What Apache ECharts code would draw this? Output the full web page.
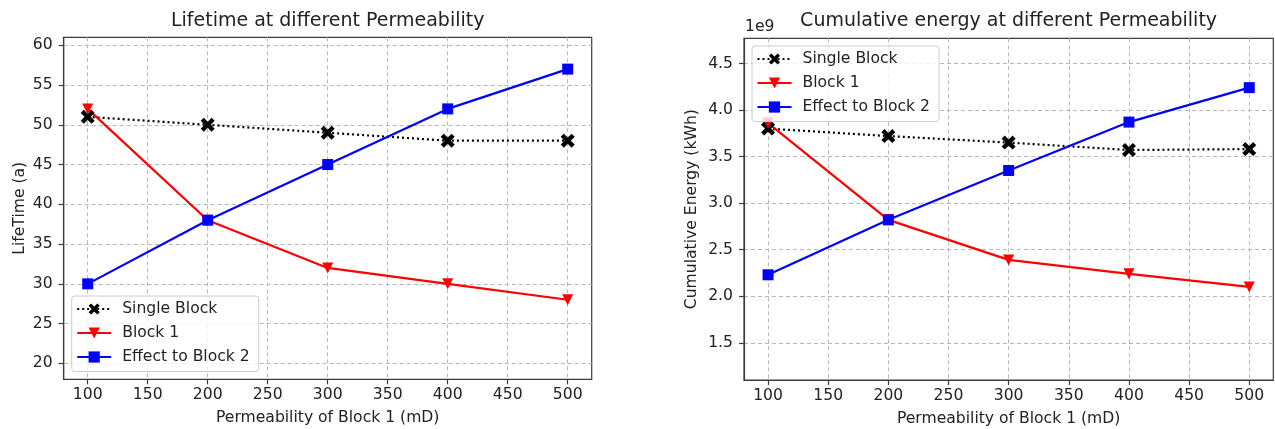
<!DOCTYPE html>
<html>
<head>
<meta charset="utf-8">
<script src="https://cdn.jsdelivr.net/npm/echarts@6/dist/echarts.min.js"></script>
<style>
  html, body { margin: 0; padding: 0; background: #ffffff; }
  #chart { width: 1275px; height: 429px; }
</style>
</head>
<body>
<div id="chart"></div>
<script>
// Permeability of Block 1 (mD)
const permeability = [100, 200, 300, 400, 500];

// Lifetime (years)
const lifeSingle = [51, 50, 49, 48, 48];
const lifeBlock1 = [52, 38, 32, 30, 28];
const lifeBlock2 = [30, 38, 45, 52, 57];

// Cumulative energy (kWh)
const energySingle = [3.80e9, 3.72e9, 3.65e9, 3.57e9, 3.58e9];
const energyBlock1 = [3.86e9, 2.82e9, 2.39e9, 2.24e9, 2.10e9];
const energyBlock2 = [2.23e9, 2.82e9, 3.35e9, 3.87e9, 4.24e9];

// Tick values
const xTicks = [100, 150, 200, 250, 300, 350, 400, 450, 500];
const lifeTicks = [20, 25, 30, 35, 40, 45, 50, 55, 60];
const energyTicks = [1.5e9, 2.0e9, 2.5e9, 3.0e9, 3.5e9, 4.0e9, 4.5e9];

const seriesNames = ['Single Block', 'Block 1', 'Effect to Block 2'];
const titles = ['Lifetime at different Permeability', 'Cumulative energy at different Permeability'];
const xName = 'Permeability of Block 1 (mD)';
const yNames = ['LifeTime (a)', 'Cumulative Energy (kWh)'];

const FONT = 'DejaVu Sans';
const FS = 15.6;
const TEXT = '#222222';
const SPINE = '#3c3c3c';
const GRIDC = '#b8b8b8';

// filled "X" marker
const xMarker = 'path://M2.2,0 L5,2.8 L7.8,0 L10,2.2 L7.2,5 L10,7.8 L7.8,10 L5,7.2 L2.2,10 L0,7.8 L2.8,5 L0,2.2 Z';

const pairs = (ys) => permeability.map((x, i) => [x, ys[i]]);

const grids = [
  { left: 63.7, top: 37.3, width: 528, height: 342 },
  { left: 744, top: 38.3, width: 529.3, height: 341.7 }
];

function xAxis(gridIndex) {
  return {
    type: 'value', gridIndex, min: 80, max: 520,
    name: xName, nameLocation: 'middle', nameGap: 31,
    nameTextStyle: { fontFamily: FONT, fontSize: FS, color: TEXT },
    axisLine: { show: true, lineStyle: { color: SPINE, width: 1.2 } },
    axisTick: { show: true, length: 5, customValues: xTicks, lineStyle: { color: SPINE, width: 1.2 } },
    axisLabel: { customValues: xTicks, margin: 8, fontFamily: FONT, fontSize: FS, color: TEXT },
    splitLine: { show: true, lineStyle: { color: GRIDC, width: 1, type: [4, 3] } }
  };
}

function yAxis(gridIndex, min, max, ticks, nameGap, fmt) {
  return {
    type: 'value', gridIndex, min, max,
    name: yNames[gridIndex], nameLocation: 'middle', nameGap, nameRotate: 90,
    nameTextStyle: { fontFamily: FONT, fontSize: FS, color: TEXT },
    axisLine: { show: true, lineStyle: { color: SPINE, width: 1.2 } },
    axisTick: { show: true, length: 5, customValues: ticks, lineStyle: { color: SPINE, width: 1.2 } },
    axisLabel: { customValues: ticks, margin: 11, fontFamily: FONT, fontSize: FS, color: TEXT, formatter: fmt },
    splitLine: { show: true, lineStyle: { color: GRIDC, width: 1, type: [4, 3] } }
  };
}

function makeSeries(idx, single, b1, b2) {
  return [
    {
      name: seriesNames[0], type: 'line', xAxisIndex: idx, yAxisIndex: idx,
      data: pairs(single), symbol: xMarker, symbolSize: 14,
      lineStyle: { color: '#000000', width: 2.2, type: [2, 3], cap: 'butt' },
      itemStyle: { color: '#000000' }
    },
    {
      name: seriesNames[1], type: 'line', xAxisIndex: idx, yAxisIndex: idx,
      data: pairs(b1), symbol: 'triangle', symbolRotate: 180, symbolSize: 11,
      lineStyle: { color: '#ff0000', width: 2.2 },
      itemStyle: { color: '#ff0000' }
    },
    {
      name: seriesNames[2], type: 'line', xAxisIndex: idx, yAxisIndex: idx,
      data: pairs(b2), symbol: 'rect', symbolSize: 11,
      lineStyle: { color: '#0000ff', width: 2.2 },
      itemStyle: { color: '#0000ff' }
    }
  ];
}

function legend(left, top) {
  return {
    orient: 'vertical', left, top,
    data: seriesNames,
    itemWidth: 34, itemHeight: 14, itemGap: 8,
    padding: [5, 9, 6.5, 4.5],
    backgroundColor: 'rgba(255,255,255,0.8)',
    borderColor: '#cccccc', borderWidth: 1, borderRadius: 3,
    textStyle: { fontFamily: FONT, fontSize: FS, color: TEXT, lineHeight: 16, padding: [0, 0, 0, 6] },
    selectedMode: false
  };
}

const chart = echarts.init(document.getElementById('chart'), null, { renderer: 'canvas' });
chart.setOption({
  animation: false,
  grid: grids.map(g => Object.assign({
    show: true, borderColor: SPINE, borderWidth: 1.2, backgroundColor: 'transparent',
    containLabel: false, outerBoundsMode: 'none'
  }, g)),
  xAxis: [xAxis(0), xAxis(1)],
  yAxis: [
    yAxis(0, 18, 61, lifeTicks, 36, v => String(v)),
    yAxis(1, 1.1e9, 4.77e9, energyTicks, 44, v => (v / 1e9).toFixed(1))
  ],
  legend: [legend(71.7, 296), legend(752, 46)],
  series: makeSeries(0, lifeSingle, lifeBlock1, lifeBlock2)
    .concat(makeSeries(1, energySingle, energyBlock1, energyBlock2)),
  graphic: [
    { type: 'text', x: 327.7, y: 21, style: { text: titles[0], textAlign: 'center', textVerticalAlign: 'middle', font: '19px "DejaVu Sans"', fill: TEXT } },
    { type: 'text', x: 1008.6, y: 21, style: { text: titles[1], textAlign: 'center', textVerticalAlign: 'middle', font: '19px "DejaVu Sans"', fill: TEXT } },
    { type: 'text', x: 745, y: 27, style: { text: '1e9', textAlign: 'left', textVerticalAlign: 'middle', font: '15.6px "DejaVu Sans"', fill: TEXT } }
  ]
});
</script>
</body>
</html>
